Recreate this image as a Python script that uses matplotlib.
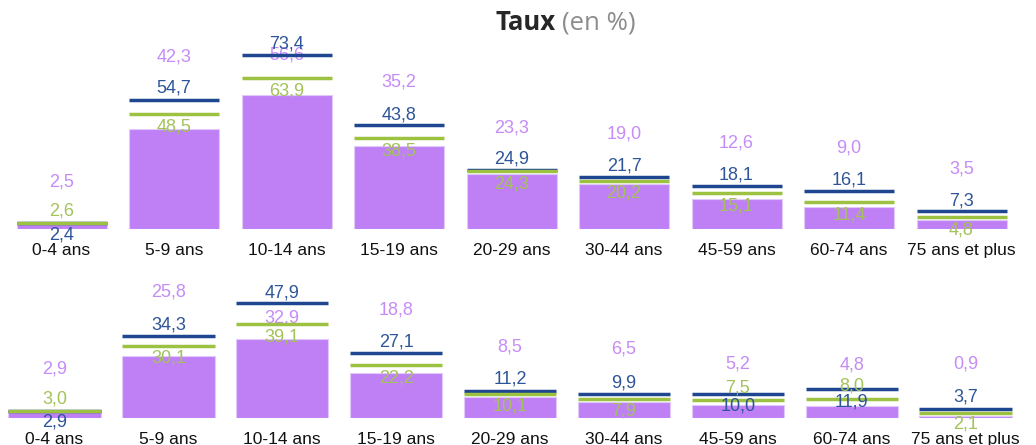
import matplotlib
matplotlib.use("Agg")
import matplotlib.pyplot as plt

plt.rcParams['font.family'] = ['Liberation Sans', 'DejaVu Sans']

categories = ["0-4 ans", "5-9 ans", "10-14 ans", "15-19 ans", "20-29 ans",
              "30-44 ans", "45-59 ans", "60-74 ans", "75 ans et plus"]

# upper panel
top_purple = [2.5, 42.3, 56.6, 35.2, 23.3, 19.0, 12.6, 9.0, 3.5]
top_blue = [2.4, 54.7, 73.4, 43.8, 24.9, 21.7, 18.1, 16.1, 7.3]
top_green = [2.6, 48.5, 63.9, 38.5, 24.3, 20.2, 15.1, 11.4, 4.8]

# lower panel
bot_purple = [2.9, 25.8, 32.9, 18.8, 8.5, 6.5, 5.2, 4.8, 0.9]
bot_blue = [2.9, 34.3, 47.9, 27.1, 11.2, 9.9, 10.0, 11.9, 3.7]
bot_green = [3.0, 30.1, 39.1, 22.2, 10.1, 7.9, 7.5, 8.0, 2.1]

# where the value labels sit (y, in data units)
top_purple_lab = [19.8, 72.7, 73.6, 62.0, 42.8, 40.1, 36.2, 34.0, 25.3]
top_blue_lab = [-2.8, 59.5, 78.4, 48.2, 29.4, 26.7, 22.9, 20.6, 11.7]
top_green_lab = [7.3, 43.1, 58.5, 33.1, 18.8, 15.0, 9.7, 5.8, -0.6]
bot_purple_lab = [20.4, 52.7, 41.6, 45.1, 29.5, 28.6, 22.5, 22.0, 22.3]
bot_blue_lab = [-1.9, 38.8, 52.3, 31.8, 16.1, 14.6, 4.9, 6.4, 8.8]
bot_green_lab = [7.8, 24.9, 33.6, 16.7, 4.9, 2.8, 12.6, 13.3, -2.8]

PURPLE = "#BF80F6"
PURPLE_TXT = "#C58CF7"
BLUE = "#1F4690"
BLUE_TXT = "#2E5599"
GREEN = "#9DC242"
GREEN_TXT = "#A3C25A"

W, H = 1036, 445


def fmt(v):
    return f"{v:.1f}".replace(".", ",")


def panel(ax, purple, blue, green, p_lab, b_lab, g_lab, width, ymax):
    x = list(range(len(categories)))
    ax.bar(x, purple, width=width, color=PURPLE, edgecolor="#E2C9FB",
           linewidth=0.8, zorder=1)
    for i in x:
        ax.hlines(blue[i], i - width / 2, i + width / 2, color=BLUE,
                  linewidth=2.5, zorder=3)
        ax.hlines(green[i], i - width / 2, i + width / 2, color=GREEN,
                  linewidth=2.5, zorder=4)
        ax.text(i, p_lab[i], fmt(purple[i]), ha="center", va="center",
                fontsize=13, color=PURPLE_TXT, zorder=2)
        ax.text(i, b_lab[i], fmt(blue[i]), ha="center", va="center",
                fontsize=13, color=BLUE_TXT, zorder=5)
        ax.text(i, g_lab[i], fmt(green[i]), ha="center", va="center",
                fontsize=13, color=GREEN_TXT, zorder=5)
    ax.set_xlim(-0.5, len(categories) - 0.5)
    ax.set_ylim(0, ymax)
    ax.set_xticks(x)
    ax.set_xticklabels(categories, fontsize=12.5, color="#111111")
    ax.tick_params(axis="x", length=0, pad=10)
    ax.set_yticks([])
    for s in ax.spines.values():
        s.set_visible(False)
    ax.patch.set_alpha(0)


fig = plt.figure(figsize=(W / 100, H / 100), dpi=100)

# upper: baseline at 228.7 px, 2.36 px per unit
ax1 = fig.add_axes([5.25 / W, (H - 228.7) / H, 1012.5 / W, 90 * 2.36 / H])
panel(ax1, top_purple, top_blue, top_green,
      top_purple_lab, top_blue_lab, top_green_lab, 0.80, 90)

# lower: baseline at 417.7 px, 2.39 px per unit
ax2 = fig.add_axes([-2.45 / W, (H - 417.7) / H, 1025 / W, 60 * 2.39 / H])
panel(ax2, bot_purple, bot_blue, bot_green,
      bot_purple_lab, bot_blue_lab, bot_green_lab, 0.81, 60)

fig.text(495 / W, 1 - 22.5 / H, "Taux", fontsize=18.5, fontweight="bold",
         color="#262626", family=["Open Sans", "DejaVu Sans"],
         ha="left", va="center")
fig.text(562 / W, 1 - 22.5 / H, "(en %)", fontsize=18.5,
         color="#8C8C8C", family=["Open Sans", "DejaVu Sans"],
         ha="left", va="center")

fig.savefig("out.png", dpi=100)
